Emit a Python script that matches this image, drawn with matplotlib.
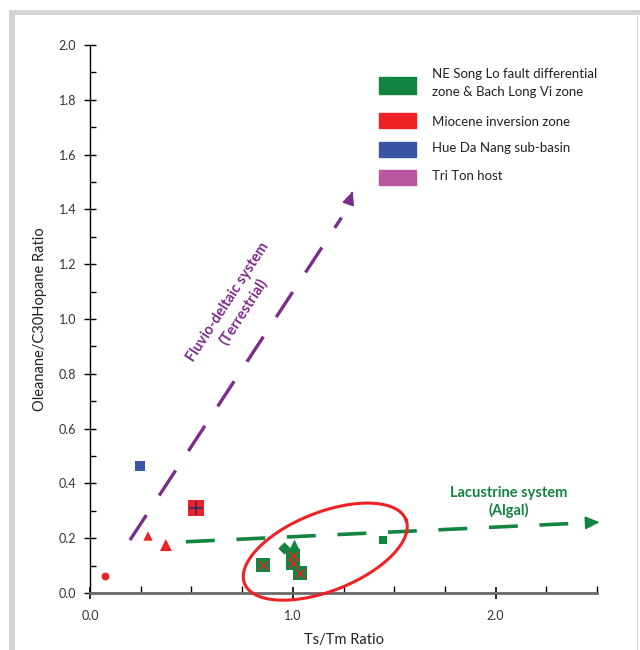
import matplotlib
matplotlib.use('Agg')
import matplotlib.pyplot as plt
from matplotlib.patches import Rectangle
from matplotlib.ticker import MultipleLocator, FixedLocator
import numpy as np

plt.rcParams['font.family'] = ['Lato', 'DejaVu Sans']

# colours of the four groups
GREEN = '#13843f'
RED = '#ee2124'
BLUE = '#3a55a4'
PINK = '#b856a0'
PURPLE = '#7b2c8c'

# NE Song Lo fault differential zone & Bach Long Vi zone
ne_sq_x = [0.852, 1.0, 1.0, 1.034]
ne_sq_y = [0.102, 0.135, 0.110, 0.072]
ne_tri_x, ne_tri_y = [1.005], [0.175]
ne_dia_x, ne_dia_y = [0.956], [0.164]
ne_small_x, ne_small_y = [1.443], [0.193]

# Miocene inversion zone
mio_circ_x, mio_circ_y = [0.074], [0.062]
mio_tri_x = [0.286, 0.374]
mio_tri_y = [0.208, 0.175]
mio_sq_x, mio_sq_y = [0.522], [0.310]

# Hue Da Nang sub-basin
hue_x, hue_y = [0.246], [0.463]

# trend lines (start, end of dashes) and arrow tips
fluvio_line = ([0.197, 1.24], [0.193, 1.37])
fluvio_tip = (1.30, 1.475)
lacus_line = ([0.473, 2.47], [0.187, 0.257])
lacus_tip = (2.525, 0.259)

legend_labels = ['NE Song Lo fault differential\nzone & Bach Long Vi zone',
                 'Miocene inversion zone', 'Hue Da Nang sub-basin', 'Tri Ton host']
legend_colors = [GREEN, RED, BLUE, PINK]
legend_rect_y = [1.852, 1.724, 1.619, 1.516]
legend_text_y = [1.861, 1.719, 1.624, 1.522]

fig = plt.figure(figsize=(6.4, 6.5), dpi=100)

# grey frame around the panel
fig.patches.append(Rectangle((9/640, 0), 6/640, 1 - 10/650, transform=fig.transFigure,
                             facecolor='#d4d4d4', edgecolor='none', zorder=0))
fig.patches.append(Rectangle((9/640, 1 - 15/650), 1, 5/650, transform=fig.transFigure,
                             facecolor='#d4d4d4', edgecolor='none', zorder=0))
fig.patches.append(Rectangle((637/640, 0), 1.2/640, 1 - 15/650, transform=fig.transFigure,
                             facecolor='#d4d4d4', edgecolor='none', zorder=0))

ax = fig.add_axes([90/640, 57/650, 507/640, 548/650])
ax.set_xlim(0, 2.5)
ax.set_ylim(0, 2.0)
ax.patch.set_alpha(0)

for s in ['top', 'right']:
    ax.spines[s].set_visible(False)
ax.spines['left'].set_linewidth(1.0)
ax.spines['left'].set_color('black')
ax.spines['bottom'].set_linewidth(2.0)
ax.spines['bottom'].set_color('#6a6a6a')

ax.xaxis.set_major_locator(FixedLocator([0.0, 1.0, 2.0]))
ax.xaxis.set_minor_locator(MultipleLocator(0.25))
ax.yaxis.set_major_locator(MultipleLocator(0.2))
ax.yaxis.set_minor_locator(MultipleLocator(0.1))
ax.xaxis.set_major_formatter(lambda v, p: '%.1f' % v)
ax.yaxis.set_major_formatter(lambda v, p: '%.1f' % v)
ax.tick_params(axis='x', which='major', direction='inout', length=9, width=1.2,
               color='black', labelsize=9, labelcolor='#333333', pad=8)
ax.tick_params(axis='x', which='minor', direction='in', length=5, width=1, color='black')
ax.tick_params(axis='y', which='major', direction='inout', length=8, width=1,
               labelsize=9, labelcolor='#333333', pad=6)
ax.tick_params(axis='y', which='minor', direction='in', length=4, width=1)

ax.set_xlabel('Ts/Tm Ratio', fontsize=10.5, color='#222222', labelpad=8)
ax.set_ylabel('Oleanane/C30Hopane Ratio', fontsize=10.5, color='#222222', labelpad=8)

# trend lines with arrow heads
ax.plot(*fluvio_line, color=PURPLE, lw=2.4, dashes=(9, 7), zorder=2)
ax.annotate('', xy=fluvio_tip, xytext=(fluvio_tip[0] - 0.012, fluvio_tip[1] - 0.025),
            arrowprops=dict(arrowstyle='-|>,head_length=0.75,head_width=0.35',
                            color=PURPLE, lw=1.5))
ax.plot(*lacus_line, color=GREEN, lw=2.6, dashes=(8, 6), zorder=2, clip_on=False)
ax.annotate('', xy=lacus_tip, xytext=(lacus_tip[0] - 0.04, lacus_tip[1] - 0.0015),
            arrowprops=dict(arrowstyle='-|>,head_length=0.8,head_width=0.38',
                            color=GREEN, lw=1.5), annotation_clip=False)

ax.text(0.72, 1.044, 'Fluvio-deltaic system\n(Terrestrial)', rotation=57,
        ha='center', va='center', color=PURPLE, fontsize=10.5, fontweight='bold',
        linespacing=1.4, rotation_mode='anchor')
ax.text(2.066, 0.332, 'Lacustrine system\n(Algal)', ha='center', va='center',
        color=GREEN, fontsize=10.5, fontweight='bold', linespacing=1.25)

# ellipse around the NE Song Lo cluster, drawn in screen-like units
cx, cy = 1.160, 0.151
a, b, th = 86.8, 39.3, np.deg2rad(21.6)
px_x, px_y = 2.5 / 507, 2.0 / 548
t = np.linspace(0, 2 * np.pi, 200)
ex = cx + (a * np.cos(t) * np.cos(th) - b * np.sin(t) * np.sin(th)) * px_x
ey = cy + (a * np.cos(t) * np.sin(th) + b * np.sin(t) * np.cos(th)) * px_y
ax.plot(ex, ey, color=RED, lw=2.2, zorder=5, clip_on=False)

# data points
ax.scatter(ne_sq_x, ne_sq_y, marker='s', s=110, color=GREEN, zorder=3, linewidths=0)
ax.scatter(ne_sq_x, ne_sq_y, marker='x', s=45, color=RED, zorder=4, linewidths=1)
ax.scatter(ne_tri_x, ne_tri_y, marker='^', s=70, color=GREEN, zorder=3, linewidths=0)
ax.scatter(ne_dia_x, ne_dia_y, marker='D', s=40, color=GREEN, zorder=3, linewidths=0)
ax.scatter(ne_small_x, ne_small_y, marker='s', s=28, color=GREEN, zorder=3, linewidths=0)

ax.scatter(mio_circ_x, mio_circ_y, marker='o', s=32, color=RED, zorder=3, linewidths=0)
ax.scatter(mio_tri_x, mio_tri_y, marker='^', s=[45, 75], color=RED, zorder=3, linewidths=0)
ax.scatter(mio_sq_x, mio_sq_y, marker='s', s=120, color=RED, zorder=3, linewidths=0)
ax.scatter(mio_sq_x, mio_sq_y, marker='+', s=110, color='#2b2f6e', zorder=4, linewidths=1.2)

ax.scatter(hue_x, hue_y, marker='s', s=55, color=BLUE, zorder=3, linewidths=0)

# legend block
for i, lab in enumerate(legend_labels):
    h = 0.062 if i == 0 else 0.055
    ax.add_patch(Rectangle((1.425, legend_rect_y[i] - h / 2), 0.182, h,
                           color=legend_colors[i], zorder=3))
    ax.text(1.686, legend_text_y[i], lab, ha='left', va='center',
            fontsize=9.5, color='#222222', linespacing=1.6)

fig.savefig('out.png', dpi=100)
